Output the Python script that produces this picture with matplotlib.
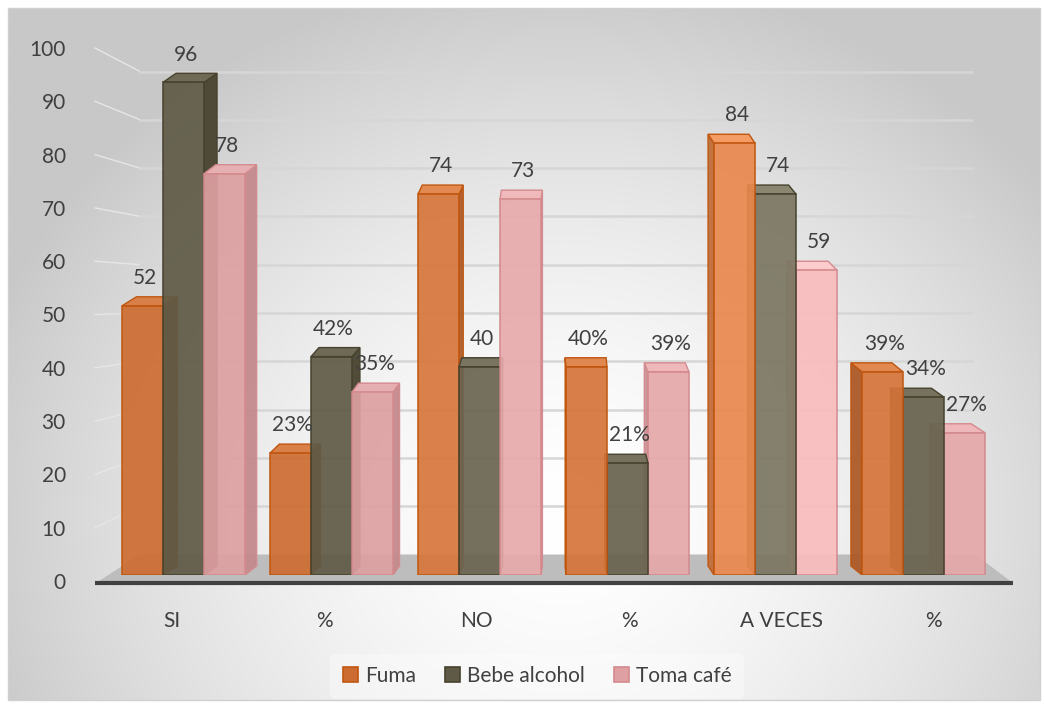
import numpy as np
import matplotlib
matplotlib.use('Agg')
import matplotlib.pyplot as plt
from matplotlib.patches import Polygon, Rectangle, Patch

# --- data ---
categories = ['SI', '%', 'NO', '%', 'A VECES', '%']
series_names = ['Fuma', 'Bebe alcohol', 'Toma café']
fuma = [52, 23, 74, 40, 84, 39]
bebe_alcohol = [96, 42, 40, 21, 74, 34]
toma_cafe = [78, 35, 73, 39, 59, 27]
percent_row = [False, True, False, True, False, True]
y_ticks = [0, 10, 20, 30, 40, 50, 60, 70, 80, 90, 100]

# --- style ---
face_colors = ['#CD6C32', '#5F5A46', '#DEA0A2']
edge_colors = ['#C0560F', '#46422E', '#D48A8E']
side_colors = ['#A5521F', '#47432F', '#C48A8D']
top_colors = ['#D98048', '#6E6A55', '#E6B0B2']
cluster_light = [0, 0, 10, 8, 28, 8]   # additive lighting per cluster (0-255)
text_color = '#404040'
font = 'Lato'

W, H = 1045, 708
plt.rcParams['font.family'] = [font, 'DejaVu Sans']


def rect(x0, x1, y_bottom, y_top):
    # pixel box (y measured from the top) -> figure fraction rect
    return [x0 / W, 1 - y_bottom / H, (x1 - x0) / W, (y_bottom - y_top) / H]


def lighten(c, amount):
    rgb = np.array(matplotlib.colors.to_rgb(c)) + amount / 255.0
    return tuple(np.clip(rgb, 0, 1))


fig = plt.figure(figsize=(W / 100, H / 100), dpi=100)

# background / chart area in pixel space
bg = fig.add_axes([0, 0, 1, 1])
bg.set_xlim(0, W)
bg.set_ylim(H, 0)
bg.axis('off')
yy, xx = np.mgrid[0:H, 0:W]
r = np.sqrt(((xx - 560) / 620.0) ** 2 + ((yy - 520) / 560.0) ** 2)
shade = 255 - 55 * np.clip(r, 0, 1) ** 1.6
img = np.dstack([shade, shade, shade]) / 255.0
bg.imshow(img, extent=[8, 1040, 700, 8], zorder=0, aspect='auto')
bg.add_patch(Rectangle((8, 8), 1032, 692, fill=False, ec='#d0d0d0', lw=1, zorder=1))


# walls: left side labels scale and back wall scale
def y_side(v):
    return 581 - 5.33 * v


def y_back(v):
    return 554.5 - 4.83 * v


for v in y_ticks[1:]:
    bg.plot([95, 140], [y_side(v), y_back(v)], color='#e6e6e6', lw=1.0, zorder=1)
    bg.plot([140, 972], [y_back(v), y_back(v)], color='#d6d6d6', lw=1.8, zorder=1)

# floor
bg.add_patch(Polygon([(96, 583), (1013, 583), (975, y_back(0)), (140, y_back(0))],
                     closed=True, fc='#bdbdbd', ec='none', zorder=1))
bg.plot([95, 1013], [583, 583], color='#404040', lw=3, solid_capstyle='butt', zorder=2)

# y tick labels
tick_ax = fig.add_axes(rect(95, 96, y_side(0), y_side(100)))
tick_ax.set_ylim(0, 100)
tick_ax.set_yticks(y_ticks)
tick_ax.set_yticklabels([str(t) for t in y_ticks], fontsize=15, color=text_color)
tick_ax.tick_params(axis='y', length=0, pad=21)
tick_ax.set_xticks([])
for s in tick_ax.spines.values():
    s.set_visible(False)
tick_ax.patch.set_visible(False)

# category labels along the front floor edge
cat_ax = fig.add_axes(rect(96, 1010, 583, 582))
cat_ax.set_xlim(-0.5, len(categories) - 0.5)
cat_ax.set_xticks(range(len(categories)))
cat_ax.set_xticklabels(categories, fontsize=15, color=text_color)
cat_ax.tick_params(axis='x', length=0, pad=20)
cat_ax.set_yticks([])
for s in cat_ax.spines.values():
    s.set_visible(False)
cat_ax.patch.set_visible(False)

# bars
ax = fig.add_axes(rect(109.5, 997.5, 575, 62))
ax.set_xlim(-0.5, len(categories) - 0.5)
ax.set_ylim(-1.0, 100)
ax.axis('off')
ax.patch.set_visible(False)

px_x = ax.transData.transform((1, 0))[0] - ax.transData.transform((0, 0))[0]
px_y = ax.transData.transform((0, 1))[1] - ax.transData.transform((0, 0))[1]
px_x, px_y = px_x / fig.dpi * 100, px_y / fig.dpi * 100

width = 41 / 148.0
depth_up = 9 / px_y
floor = -1.0
x = np.arange(len(categories))
all_values = [fuma, bebe_alcohol, toma_cafe]

for j, values in enumerate(all_values):
    offs = (j - 1) * width
    for i, v in enumerate(values):
        xc = x[i] + offs
        # horizontal depth shift depends on where the bar sits (perspective)
        xc_px = 109.5 + (xc + 0.5) * 148
        dx_px = 13 - 24 * (xc_px - 185) / 695.0
        dx = dx_px / px_x
        z = 3 + (0.1 * j if dx >= 0 else 0.1 * (2 - j))
        amt = cluster_light[i]
        fc = lighten(face_colors[j], amt)
        sc = lighten(side_colors[j], amt)
        tc = lighten(top_colors[j], amt)
        ec = edge_colors[j]
        x0, x1 = xc - width / 2, xc + width / 2
        edge = x1 if dx >= 0 else x0
        ax.add_patch(Polygon([(edge, floor), (edge + dx, floor + depth_up),
                              (edge + dx, v + depth_up), (edge, v)],
                             closed=True, fc=sc, ec=ec, lw=1, alpha=0.95, zorder=z))
        ax.add_patch(Polygon([(x0, v), (x0 + dx, v + depth_up),
                              (x1 + dx, v + depth_up), (x1, v)],
                             closed=True, fc=tc, ec=ec, lw=1, zorder=z))
        ax.bar(xc, v - floor, bottom=floor, width=width, color=fc, alpha=0.92,
               edgecolor=ec, linewidth=1.2, zorder=z + 0.01)
        label = f'{v}%' if percent_row[i] else f'{v}'
        ax.annotate(label, (xc, v), xytext=(1.5, 20), textcoords='offset points',
                    ha='center', va='center', fontsize=15, color=text_color,
                    zorder=10)

# legend
handles = [Patch(facecolor=face_colors[k], edgecolor=edge_colors[k], linewidth=1.2)
           for k in range(3)]
leg = fig.legend(handles, series_names, loc='center', bbox_to_anchor=(537 / W, 1 - 676 / H),
                 ncol=3, frameon=True, fontsize=15, handlelength=0.75, handleheight=0.75,
                 handletextpad=0.3, columnspacing=1.4, borderpad=0.6)
leg.get_frame().set_facecolor('white')
leg.get_frame().set_alpha(0.35)
leg.get_frame().set_edgecolor('none')
for t in leg.get_texts():
    t.set_color(text_color)

fig.savefig('out.png', dpi=100)
